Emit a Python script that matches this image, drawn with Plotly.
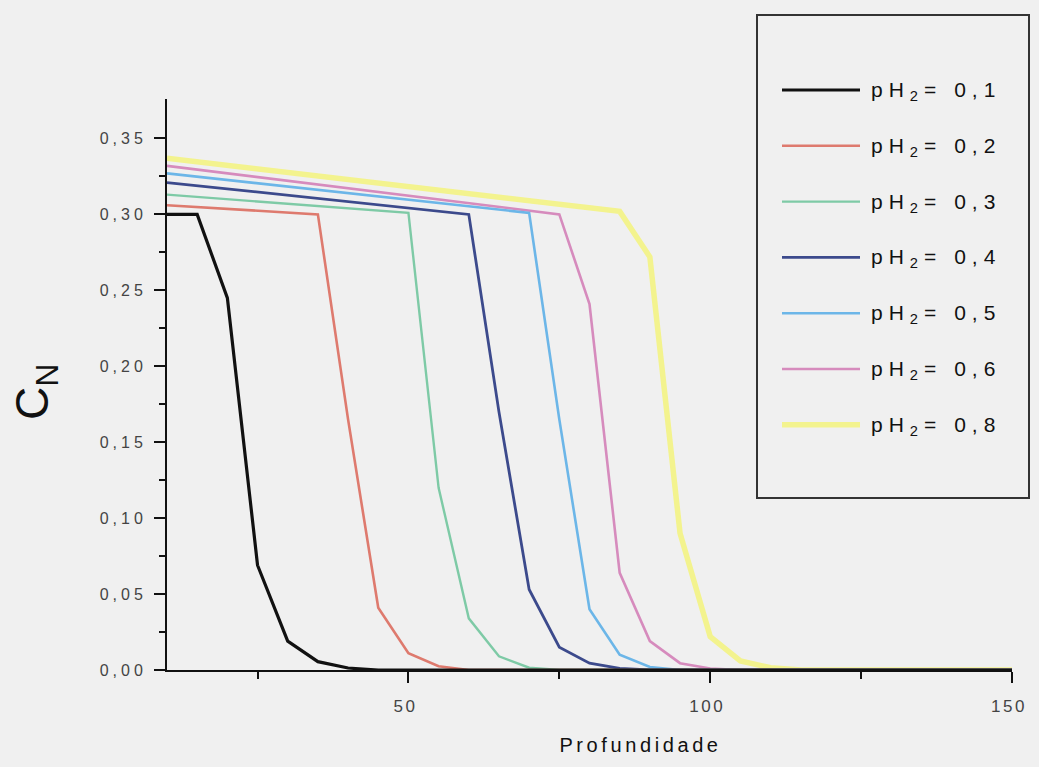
import plotly.graph_objects as go

# ---- data ----
labels = ["0,1", "0,2", "0,3", "0,4", "0,5", "0,6", "0,8"]
colors = ["#111111", "#de7a6e", "#7ecaa6", "#3c4a8c", "#6cb6e8", "#d68bbd", "#f3f38e"]
widths = [3.2, 2.6, 2.4, 2.8, 2.6, 2.6, 5.5]

x_01 = [10, 15, 20, 25, 30, 35, 40, 45, 150]
y_01 = [0.300, 0.300, 0.245, 0.069, 0.019, 0.0055, 0.0013, 0.0, 0.0]

x_02 = [10, 35, 40, 45, 50, 55, 60, 150]
y_02 = [0.306, 0.300, 0.165, 0.041, 0.011, 0.0025, 0.0, 0.0]

x_03 = [10, 50, 55, 60, 65, 70, 75, 150]
y_03 = [0.313, 0.301, 0.120, 0.034, 0.009, 0.0015, 0.0, 0.0]

x_04 = [10, 60, 65, 70, 75, 80, 85, 90, 150]
y_04 = [0.321, 0.300, 0.170, 0.053, 0.015, 0.0045, 0.001, 0.0, 0.0]

x_05 = [10, 70, 75, 80, 85, 90, 95, 150]
y_05 = [0.327, 0.301, 0.165, 0.040, 0.010, 0.002, 0.0, 0.0]

x_06 = [10, 75, 80, 85, 90, 95, 100, 105, 150]
y_06 = [0.332, 0.300, 0.241, 0.064, 0.019, 0.0045, 0.001, 0.0, 0.0]

x_08 = [10, 85, 90, 95, 100, 105, 110, 115, 150]
y_08 = [0.337, 0.302, 0.272, 0.090, 0.022, 0.006, 0.0015, 0.0, 0.0]

xs = [x_01, x_02, x_03, x_04, x_05, x_06, x_08]
ys = [y_01, y_02, y_03, y_04, y_05, y_06, y_08]

y_ticks = [0.0, 0.05, 0.10, 0.15, 0.20, 0.25, 0.30, 0.35]
y_ticktext = ["0,00", "0,05", "0,10", "0,15", "0,20", "0,25", "0,30", "0,35"]
y_minor = [0.025, 0.075, 0.125, 0.175, 0.225, 0.275, 0.325]
x_ticks = [50, 100, 150]
x_ticktext = ["50", "100", "150"]
x_minor = [25, 75, 125]

BG = "#f0f0f0"

fig = go.Figure()
# draw in reverse so black is on top
for i in reversed(range(len(labels))):
    fig.add_trace(go.Scatter(
        x=xs[i], y=ys[i], mode="lines",
        line=dict(color=colors[i], width=widths[i]),
        name="pH<sub>2</sub>= " + labels[i],
        showlegend=False,
    ))

L, R, T, B = 167, 27, 99, 97
W, H = 1039, 767
pw, ph = W - L - R, H - T - B

def px_to_paper_x(px):
    return (px - L) / pw

def px_to_paper_y(py):
    return (H - B - py) / ph

shapes = []
annotations = []

# legend box
shapes.append(dict(type="rect", xref="paper", yref="paper",
                   x0=px_to_paper_x(757), x1=px_to_paper_x(1029),
                   y0=px_to_paper_y(498), y1=px_to_paper_y(15),
                   line=dict(color="#333333", width=2), fillcolor=BG, layer="below"))
# legend entries
for i, lab in enumerate(labels):
    yc = 90 + i * 55.8
    shapes.append(dict(type="line", xref="paper", yref="paper",
                       x0=px_to_paper_x(782), x1=px_to_paper_x(860),
                       y0=px_to_paper_y(yc), y1=px_to_paper_y(yc),
                       line=dict(color=colors[i], width=widths[i])))
    annotations.append(dict(xref="paper", yref="paper",
                            x=px_to_paper_x(869), y=px_to_paper_y(yc + 1),
                            xanchor="left", yanchor="middle", align="left",
                            showarrow=False,
                            text="pH<sub>2</sub>= " + lab,
                            font=dict(family="Liberation Sans, Arial", size=21, color="#111111")))

# axis titles
annotations.append(dict(xref="paper", yref="paper",
                        x=px_to_paper_x(35), y=px_to_paper_y(392),
                        xanchor="center", yanchor="middle", showarrow=False,
                        text="C<sub>N</sub>", textangle=-90,
                        font=dict(family="Liberation Sans, Arial", size=46, color="#111111")))
annotations.append(dict(xref="paper", yref="paper",
                        x=px_to_paper_x(640), y=px_to_paper_y(745),
                        xanchor="center", yanchor="middle", showarrow=False,
                        text="Profundidade",
                        font=dict(family="Liberation Sans, Arial", size=20, color="#111111")))

fig.update_layout(
    width=W, height=H,
    margin=dict(l=L, r=R, t=T, b=B, pad=0),
    paper_bgcolor=BG, plot_bgcolor=BG,
    showlegend=False,
    shapes=shapes, annotations=annotations,
    xaxis=dict(range=[10, 150], showgrid=False, zeroline=False,
               showline=True, linecolor="#111111", linewidth=2,
               ticks="outside", ticklen=11, tickwidth=2, tickcolor="#111111",
               tickvals=x_ticks, ticktext=x_ticktext, ticklabelstandoff=9,
               ticklabelshift=-3,
               minor=dict(tickvals=x_minor, ticks="outside", ticklen=7,
                          tickwidth=2, tickcolor="#111111", showgrid=False),
               tickfont=dict(family="Liberation Sans, Arial", size=17, color="#444444")),
    yaxis=dict(range=[0, 0.376], showgrid=False, zeroline=False,
               showline=True, linecolor="#111111", linewidth=2,
               ticks="outside", ticklen=11, tickwidth=2, tickcolor="#111111",
               tickvals=y_ticks, ticktext=y_ticktext, ticklabelstandoff=4,
               minor=dict(tickvals=y_minor, ticks="outside", ticklen=6,
                          tickwidth=2, tickcolor="#111111", showgrid=False),
               tickfont=dict(family="Liberation Sans, Arial", size=16, color="#444444")),
)

post_js = """
document.documentElement.style.overflow='hidden';
document.body.style.margin='0';
document.body.style.padding='0';
document.body.style.background='#f0f0f0';
var gd=document.getElementById('{plot_id}');
function sp(sel, v){ gd.querySelectorAll(sel).forEach(function(e){ e.style.letterSpacing=v; }); }
sp('g.ytick text','4px');
sp('g.xtick text','2.5px');
for (var k=0;k<7;k++){ sp('g.annotation[data-index="'+k+'"] text','6px'); }
sp('g.annotation[data-index="8"] text','3.6px');
"""

fig.write_html("out.html", post_script=post_js, config={"displayModeBar": False})
